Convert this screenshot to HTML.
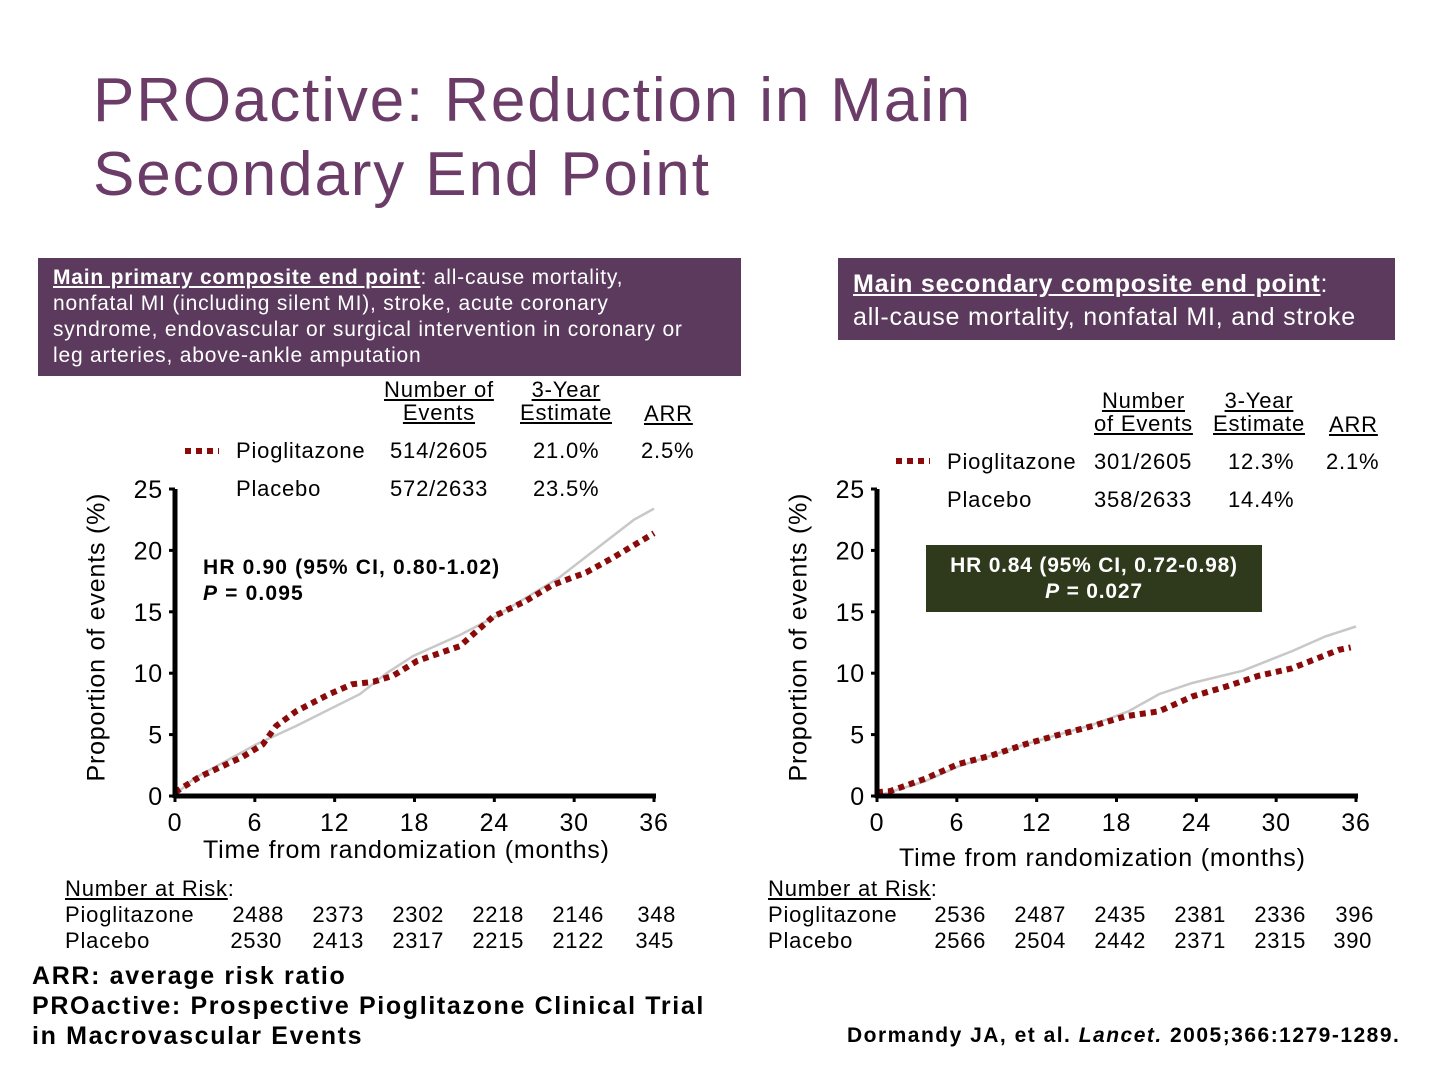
<!DOCTYPE html>
<html><head><meta charset="utf-8"><style>
body{margin:0;width:1440px;height:1080px;background:#fff;position:relative;overflow:hidden;font-family:"Liberation Sans",Arial,sans-serif;color:#000;letter-spacing:0.05em}
.a{position:absolute;white-space:nowrap}
.title{left:93px;top:64px;font-size:62px;line-height:74px;color:#6b3c68;letter-spacing:0.03em}
.box{background:#5b3a5e;color:#fff;position:absolute}
u{text-decoration:underline}
.f22{font-size:22px}
.n{position:absolute;font-size:22px;text-align:right;width:80px;letter-spacing:0.03em}
svg text{font-family:"Liberation Sans",Arial,sans-serif}
</style></head><body>
<div class="a title">PROactive: Reduction in Main<br>Secondary End Point</div>

<div class="box" style="left:38px;top:258px;width:703px;height:118px;font-size:21px;line-height:26px;padding:7px 0 0 15px;box-sizing:border-box;white-space:nowrap"><b><u>Main primary composite end point</u></b>: all-cause mortality,<br>nonfatal MI (including silent MI), stroke, acute coronary<br>syndrome, endovascular or surgical intervention in coronary or<br>leg arteries, above-ankle amputation</div>

<div class="box" style="left:838px;top:258px;width:557px;height:82px;font-size:25px;line-height:33px;padding:10px 0 0 15px;box-sizing:border-box;white-space:nowrap"><b><u>Main secondary composite end point</u></b>:<br>all-cause mortality, nonfatal MI, and stroke</div>

<svg class="a" style="left:0;top:0" width="1440" height="1080">
<g id="left"></g>
<g id="right"></g>
</svg>

<div class="a f22" style="left:384px;top:378px;text-align:center;line-height:23px"><u>Number of</u><br><u>Events</u></div>
<div class="a f22" style="left:520px;top:378px;text-align:center;line-height:23px"><u>3-Year</u><br><u>Estimate</u></div>
<div class="a f22" style="left:644px;top:401px"><u>ARR</u></div>
<div class="a f22" style="left:236px;top:438px">Pioglitazone</div>
<div class="a f22" style="left:390px;top:438px">514/2605</div>
<div class="a f22" style="left:533px;top:438px">21.0%</div>
<div class="a f22" style="left:641px;top:438px">2.5%</div>
<div class="a f22" style="left:236px;top:476px">Placebo</div>
<div class="a f22" style="left:390px;top:476px">572/2633</div>
<div class="a f22" style="left:533px;top:476px">23.5%</div>
<div class="a" style="left:203px;top:555px;font-size:21px;font-weight:bold;line-height:26px;letter-spacing:0.055em">HR 0.90 (95% CI, 0.80-1.02)<br><i>P</i> = 0.095</div>

<div class="a f22" style="left:1094px;top:389px;text-align:center;line-height:23px"><u>Number</u><br><u>of Events</u></div>
<div class="a f22" style="left:1213px;top:389px;text-align:center;line-height:23px"><u>3-Year</u><br><u>Estimate</u></div>
<div class="a f22" style="left:1329px;top:412px"><u>ARR</u></div>
<div class="a f22" style="left:947px;top:449px">Pioglitazone</div>
<div class="a f22" style="left:1094px;top:449px">301/2605</div>
<div class="a f22" style="left:1228px;top:449px">12.3%</div>
<div class="a f22" style="left:1326px;top:449px">2.1%</div>
<div class="a f22" style="left:947px;top:487px">Placebo</div>
<div class="a f22" style="left:1094px;top:487px">358/2633</div>
<div class="a f22" style="left:1228px;top:487px">14.4%</div>
<div class="a" style="left:926px;top:545px;width:336px;height:67px;background:#2f3a1c;color:#fff;font-size:21px;font-weight:bold;line-height:26px;text-align:center;padding-top:8px;box-sizing:border-box">HR 0.84 (95% CI, 0.72-0.98)<br><i>P</i> = 0.027</div>

<div class="a" style="left:203px;top:836px;font-size:25px">Time from randomization (months)</div>
<div class="a" style="left:899px;top:844px;font-size:25px">Time from randomization (months)</div>
<div class="a" style="left:-43px;top:627px;font-size:25px;transform:rotate(-90deg);transform-origin:center;width:280px;text-align:center">Proportion of events (%)</div>
<div class="a" style="left:659px;top:627px;font-size:25px;transform:rotate(-90deg);transform-origin:center;width:280px;text-align:center">Proportion of events (%)</div>

<div class="a f22" style="left:65px;top:876px;line-height:26px"><u>Number at Risk</u>:<br>Pioglitazone<br>Placebo</div>
<div class="a f22" style="left:768px;top:876px;line-height:26px"><u>Number at Risk</u>:<br>Pioglitazone<br>Placebo</div>
<div id="risk"></div>

<div class="a" style="left:32px;top:961px;font-size:25px;font-weight:bold;line-height:30px;letter-spacing:0.066em">ARR: average risk ratio<br>PROactive: Prospective Pioglitazone Clinical Trial<br>in Macrovascular Events</div>
<div class="a" style="left:847px;top:1024px;font-size:21px;font-weight:bold;letter-spacing:0.071em">Dormandy JA, et al. <i>Lancet.</i> 2005;366:1279-1289.</div>

<script>
const yTicks=[0,5,10,15,20,25];
const xTicks=[0,6,12,18,24,30,36];
const leftPioMonths=[0,1.9,5.1,6.6,7.6,9.1,11.6,13.3,14.9,16.4,18.2,21.4,23.9,26.4,28.4,30.9,32.9,36];
const leftPioValues=[0.3,1.6,3.2,4.2,5.7,6.9,8.3,9.1,9.3,9.8,11.0,12.2,14.6,15.9,17.2,18.2,19.4,21.4];
const leftPlaMonths=[0,1.4,6.1,9.1,13.9,15.9,17.9,21.4,23.9,28.9,32.7,34.5,36];
const leftPlaValues=[0.1,1.4,4.2,5.7,8.3,10.0,11.4,13.1,14.5,17.8,21.0,22.5,23.4];
const rightPioMonths=[0,1,3.6,6.1,8.6,11.1,13.7,16.2,18.7,21.2,23.7,26.2,28.7,31.2,34.7,35.6];
const rightPioValues=[0.3,0.4,1.4,2.6,3.3,4.2,5.0,5.7,6.5,6.9,8.1,8.9,9.8,10.4,11.9,12.1];
const rightPlaMonths=[0,3.6,6.1,11.1,16.2,18.9,21.2,23.7,27.5,31.2,33.7,36];
const rightPlaValues=[0,1.2,2.4,4.2,5.8,6.9,8.3,9.2,10.2,11.8,13.0,13.8];
const leftRiskPio=[2488,2373,2302,2218,2146,348];
const leftRiskPla=[2530,2413,2317,2215,2122,345];
const rightRiskPio=[2536,2487,2435,2381,2336,396];
const rightRiskPla=[2566,2504,2442,2371,2315,390];
const NS='http://www.w3.org/2000/svg';
function mk(tag,attrs,parent){const e=document.createElementNS(NS,tag);for(const k in attrs)e.setAttribute(k,attrs[k]);parent.appendChild(e);return e;}
function chart(gid,x0,pm,pv,qm,qv,legendX,legendY){
  const g=document.getElementById(gid);
  const X=m=>x0+m*(479/36), Y=v=>796-v*(307/25);
  const pts=(ms,vs)=>ms.map((m,i)=>X(m).toFixed(1)+','+Y(vs[i]).toFixed(1)).join(' ');
  const pl=mk('polyline',{points:pts(qm,qv),fill:'none',stroke:'#c8c8c8','stroke-width':2.5},g);
  
  
  const pp=mk('polyline',{points:pts(pm,pv),fill:'none',stroke:'#8b0a0a','stroke-width':6,'stroke-dasharray':'6 5'},g);
  
  
  mk('line',{x1:X(0),y1:Y(0),x2:X(36)+2,y2:Y(0),stroke:'#000','stroke-width':5},g);
  mk('line',{x1:X(0),y1:Y(0)+2,x2:X(0),y2:Y(25),stroke:'#000','stroke-width':5},g);
  yTicks.forEach(t=>{mk('line',{x1:X(0)-6,x2:X(0),y1:Y(t),y2:Y(t),stroke:'#000','stroke-width':3},g);
    const tx=mk('text',{x:X(0)-12,y:Y(t)+9,'text-anchor':'end','font-size':25},g);tx.textContent=t;
    });
  xTicks.forEach(t=>{mk('line',{x1:X(t),x2:X(t),y1:Y(0),y2:Y(0)+6,stroke:'#000','stroke-width':3},g);
    const tx=mk('text',{x:X(t),y:Y(0)+35,'text-anchor':'middle','font-size':25},g);tx.textContent=t;
    });
  mk('line',{x1:legendX,x2:legendX+34,y1:legendY,y2:legendY,stroke:'#8b0a0a','stroke-width':6,'stroke-dasharray':'6 5'},g);
}
chart('left',175,leftPioMonths,leftPioValues,leftPlaMonths,leftPlaValues,185,451);
chart('right',877,rightPioMonths,rightPioValues,rightPlaMonths,rightPlaValues,896,461);
const risk=document.getElementById('risk');
function riskRow(vals,rights,top){vals.forEach((v,i)=>{const d=document.createElement('div');d.className='n';
  d.style.left=(rights[i]-80)+'px';d.style.top=top+'px';d.textContent=v;
  
  
  risk.appendChild(d);});}
riskRow(leftRiskPio,[284,364,444,524,604,676],902);
riskRow(leftRiskPla,[282,364,444,524,604,674],928);
riskRow(rightRiskPio,[986,1066,1146,1226,1306,1374],902);
riskRow(rightRiskPla,[986,1066,1146,1226,1306,1372],928);
</script>
</body></html>
